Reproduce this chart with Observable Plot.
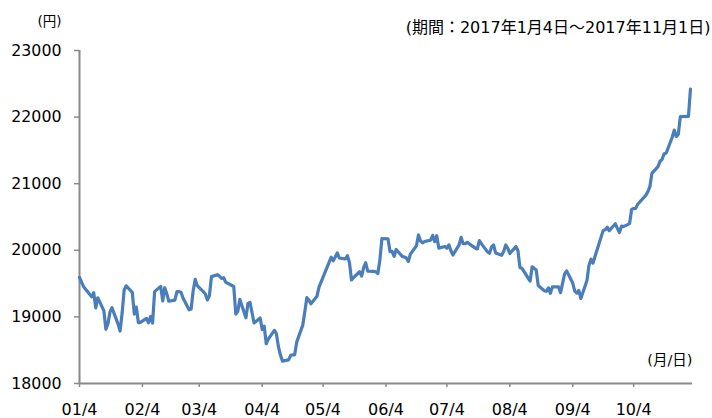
<!DOCTYPE html>
<html>
<head>
<meta charset="utf-8">
<script src="https://cdn.jsdelivr.net/npm/d3@7"></script>
<script src="https://cdn.jsdelivr.net/npm/@observablehq/plot@0.6"></script>
<style>
  html, body { margin: 0; padding: 0; background: #fff; }
  #chart { width: 712px; height: 418px; }
</style>
</head>
<body>
<div id="chart"></div>
<script>
const dates = [
"2017-01-04","2017-01-05","2017-01-06","2017-01-10","2017-01-11","2017-01-12","2017-01-13","2017-01-16","2017-01-17","2017-01-18","2017-01-19","2017-01-20","2017-01-23","2017-01-24","2017-01-25","2017-01-26","2017-01-27","2017-01-30","2017-01-31",
"2017-02-01","2017-02-02","2017-02-03","2017-02-06","2017-02-07","2017-02-08","2017-02-09","2017-02-10","2017-02-13","2017-02-14","2017-02-15","2017-02-16","2017-02-17","2017-02-20","2017-02-21","2017-02-22","2017-02-23","2017-02-24","2017-02-27","2017-02-28",
"2017-03-01","2017-03-02","2017-03-03","2017-03-06","2017-03-07","2017-03-08","2017-03-09","2017-03-10","2017-03-13","2017-03-14","2017-03-15","2017-03-16","2017-03-17","2017-03-21","2017-03-22","2017-03-23","2017-03-24","2017-03-27","2017-03-28","2017-03-29","2017-03-30","2017-03-31",
"2017-04-03","2017-04-04","2017-04-05","2017-04-06","2017-04-07","2017-04-10","2017-04-11","2017-04-12","2017-04-13","2017-04-14","2017-04-17","2017-04-18","2017-04-19","2017-04-20","2017-04-21","2017-04-24","2017-04-25","2017-04-26","2017-04-27","2017-04-28",
"2017-05-01","2017-05-02","2017-05-08","2017-05-09","2017-05-10","2017-05-11","2017-05-12","2017-05-15","2017-05-16","2017-05-17","2017-05-18","2017-05-19","2017-05-22","2017-05-23","2017-05-24","2017-05-25","2017-05-26","2017-05-29","2017-05-30","2017-05-31",
"2017-06-01","2017-06-02","2017-06-05","2017-06-06","2017-06-07","2017-06-08","2017-06-09","2017-06-12","2017-06-13","2017-06-14","2017-06-15","2017-06-16","2017-06-19","2017-06-20","2017-06-21","2017-06-22","2017-06-23","2017-06-26","2017-06-27","2017-06-28","2017-06-29","2017-06-30",
"2017-07-03","2017-07-04","2017-07-05","2017-07-06","2017-07-07","2017-07-10","2017-07-11","2017-07-12","2017-07-13","2017-07-14","2017-07-18","2017-07-19","2017-07-20","2017-07-21","2017-07-24","2017-07-25","2017-07-26","2017-07-27","2017-07-28","2017-07-31",
"2017-08-01","2017-08-02","2017-08-03","2017-08-04","2017-08-07","2017-08-08","2017-08-09","2017-08-10","2017-08-14","2017-08-15","2017-08-16","2017-08-17","2017-08-18","2017-08-21","2017-08-22","2017-08-23","2017-08-24","2017-08-25","2017-08-28","2017-08-29","2017-08-30","2017-08-31",
"2017-09-01","2017-09-04","2017-09-05","2017-09-06","2017-09-07","2017-09-08","2017-09-11","2017-09-12","2017-09-13","2017-09-14","2017-09-15","2017-09-19","2017-09-20","2017-09-21","2017-09-22","2017-09-25","2017-09-26","2017-09-27","2017-09-28","2017-09-29",
"2017-10-02","2017-10-03","2017-10-04","2017-10-05","2017-10-06","2017-10-10","2017-10-11","2017-10-12","2017-10-13","2017-10-16","2017-10-17","2017-10-18","2017-10-19","2017-10-20","2017-10-23","2017-10-24","2017-10-25","2017-10-26","2017-10-27","2017-10-30","2017-10-31",
"2017-11-01"
];
const closes = [
19594,19521,19454,19301,19365,19135,19287,19095,18814,18894,19072,19138,18891,18788,19058,19402,19467,19369,19041,
19148,18915,18918,18977,18911,19008,18908,19379,19459,19239,19438,19348,19235,19251,19381,19380,19371,19284,19107,19119,
19394,19565,19469,19379,19344,19254,19319,19605,19634,19610,19577,19590,19522,19456,19041,19085,19263,18986,19203,19217,19063,18909,
18983,18810,18861,18597,18665,18798,18748,18553,18427,18336,18355,18419,18432,18430,18621,18876,19079,19289,19252,19197,
19311,19446,19896,19843,19900,19962,19884,19870,19920,19815,19554,19591,19678,19613,19743,19813,19687,19683,19678,19651,
19860,20177,20171,19980,19985,19909,20013,19909,19899,19884,19832,19943,20068,20230,20139,20111,20133,20153,20225,20130,20220,20033,
20056,20032,20082,19994,19929,20081,20195,20098,20100,20119,20032,20021,20145,20100,19976,19955,20050,20080,19960,19925,
19986,20080,20029,19952,20056,19996,19739,19730,19537,19753,19729,19703,19470,19393,19384,19435,19354,19453,19450,19363,19507,19646,
19691,19508,19386,19358,19397,19275,19546,19777,19866,19807,19910,20299,20310,20347,20296,20398,20330,20267,20363,20356,
20401,20614,20627,20629,20691,20824,20881,20955,21155,21256,21336,21363,21449,21458,21697,21805,21708,21740,22008,22012,22012,
22420
];
const xTicks = ["2017-01-04","2017-02-04","2017-03-04","2017-04-04","2017-05-04","2017-06-04","2017-07-04","2017-08-04","2017-09-04","2017-10-04"];
const yTicks = [18000, 19000, 20000, 21000, 22000, 23000];
const titleText = "(期間：2017年1月4日～2017年11月1日)";
const yUnit = "(円)";
const xUnit = "(月/日)";

const parse = d3.utcParse("%Y-%m-%d");
const data = dates.map((d, i) => ({date: parse(d), close: closes[i]}));
const xStart = parse("2017-01-04");
const xEnd = parse("2017-11-02");
const axisColor = "#898989";
const font = "'DejaVu Sans', 'Noto Sans CJK JP', sans-serif";

const chart = Plot.plot({
  width: 712,
  height: 418,
  marginLeft: 79,
  marginRight: 20,
  marginTop: 50,
  marginBottom: 35,
  style: {fontFamily: font, fontSize: "15.5px", color: "#000", background: "#fff"},
  x: {type: "utc", domain: [xStart, xEnd]},
  y: {domain: [18000, 23000]},
  marks: [
    Plot.axisY({ticks: yTicks, tickSize: 5, tickPadding: 13, stroke: axisColor, strokeWidth: 1.5, fill: "#000", fontSize: 15.8, label: null, tickFormat: d => String(d)}),
    Plot.axisX({ticks: xTicks.map(parse), tickSize: 4, tickPadding: 16, stroke: axisColor, strokeWidth: 1.5, fill: "#000", fontSize: 16, label: null, tickFormat: d3.utcFormat("%m/%-d")}),
    Plot.ruleX([xStart], {y1: 18000, y2: 23000, stroke: axisColor, strokeWidth: 2}),
    Plot.ruleY([18000], {x1: xStart, x2: xEnd, stroke: axisColor, strokeWidth: 2}),
    Plot.line(data, {x: "date", y: "close", stroke: "#4a7ebb", strokeWidth: 3.2, strokeLinejoin: "round", strokeLinecap: "round"}),
    Plot.text([titleText], {frameAnchor: "top-right", textAnchor: "end", lineAnchor: "middle", dx: 18, dy: -23, fontSize: 16, fill: "#000"}),
    Plot.text([yUnit], {frameAnchor: "top-left", textAnchor: "middle", lineAnchor: "middle", dx: -30, dy: -29, fontSize: 13.5, fill: "#000"}),
    Plot.text([xUnit], {frameAnchor: "bottom-right", textAnchor: "end", lineAnchor: "middle", dx: 0, dy: -23, fontSize: 14.5, fill: "#000"})
  ]
});
document.getElementById("chart").appendChild(chart);
</script>
</body>
</html>
